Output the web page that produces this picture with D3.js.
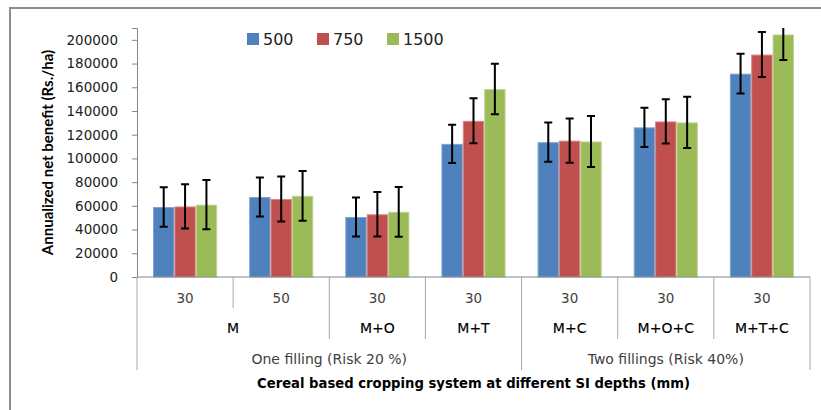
<!DOCTYPE html>
<html>
<head>
<meta charset="utf-8">
<script src="https://cdn.jsdelivr.net/npm/d3@7"></script>
<style>
    body { margin: 0; background: #fff; }
    svg { display: block; }
</style>
</head>
<body>
<div id="chart"></div>
<script>
// Annualized net benefit by cropping system, SI depth and filling

// Data
const depths = ["30", "50", "30", "30", "30", "30", "30"];
const crops = ["M", "M", "M+O", "M+T", "M+C", "M+O+C", "M+T+C"];
const fillings = [
    "One filling (Risk 20 %)", "One filling (Risk 20 %)", "One filling (Risk 20 %)", "One filling (Risk 20 %)",
    "Two fillings (Risk 40%)", "Two fillings (Risk 40%)", "Two fillings (Risk 40%)"
];
const seriesNames = ["500", "750", "1500"];
const values500 = [59000, 67500, 50600, 112300, 113700, 126200, 171500];
const values750 = [59500, 65800, 52900, 131700, 115000, 131200, 187600];
const values1500 = [61000, 68500, 55000, 158500, 114300, 130400, 204500];
const err500 = [16700, 16500, 16500, 16200, 16500, 16600, 16700];
const err750 = [18700, 19000, 18700, 19000, 18700, 18700, 19000];
const err1500 = [20800, 21000, 21000, 21300, 21500, 21600, 21400];
const yTicks = [0, 20000, 40000, 60000, 80000, 100000, 120000, 140000, 160000, 180000, 200000];
const yMax = 210000;

const colors = ["#4F81BD", "#C0504D", "#9BBB59"];
const strokes = ["#7ea3d3", "#d88583", "#bcd48c"];

// merge consecutive equal labels into spans
function spans(labels) {
    const out = [];
    labels.forEach((l, i) => {
        const last = out[out.length - 1];
        if (last && last.label === l) last.end = i + 1;
        else out.push({ label: l, start: i, end: i + 1 });
    });
    return out;
}

function createVisualization() {
    const width = 821, height = 410;
    const left = 137, right = 810, top = 28, bottom = 277;
    const idx = d3.range(depths.length);
    const series = [values500, values750, values1500];
    const errs = [err500, err750, err1500];

    const svg = d3.select("#chart")
        .append("svg")
        .attr("width", width)
        .attr("height", height);

    // Outer frame (only top and left visible)
    svg.append("path")
        .attr("d", `M10,${height} V8 H${width}`)
        .attr("fill", "none")
        .attr("stroke", "#8c8c8c")
        .attr("stroke-width", 2);

    // Scales
    const x = d3.scaleBand().domain(idx).range([left, right]).padding(0);
    const xSub = d3.scaleBand().domain(d3.range(3))
        .range([0, x.bandwidth()]).paddingInner(0).paddingOuter(0.75);
    const y = d3.scaleLinear().domain([0, yMax]).range([bottom, top]);

    svg.append("defs").append("clipPath").attr("id", "plot")
        .append("rect").attr("x", left).attr("y", top)
        .attr("width", right - left).attr("height", bottom - top);

    // Bars
    const groups = svg.append("g").selectAll("g")
        .data(series)
        .join("g")
        .attr("fill", (d, s) => colors[s])
        .attr("stroke", (d, s) => strokes[s]);

    groups.selectAll("rect")
        .data((d, s) => d.map((v, i) => ({ v, i, s })))
        .join("rect")
        .attr("x", d => x(d.i) + xSub(d.s) + 0.5)
        .attr("y", d => y(d.v) + 0.5)
        .attr("width", xSub.bandwidth() - 1)
        .attr("height", d => y(0) - y(d.v) - 0.5)
        .attr("stroke-width", 1);

    // Error bars
    const eg = svg.append("g")
        .attr("clip-path", "url(#plot)")
        .attr("stroke", "#000")
        .attr("stroke-width", 2)
        .attr("fill", "none");
    series.forEach((vals, s) => {
        vals.forEach((v, i) => {
            const cx = x(i) + xSub(s) + xSub.bandwidth() / 2;
            const y1 = y(v + errs[s][i]), y2 = y(v - errs[s][i]);
            eg.append("path")
                .attr("d", `M${cx},${y1}V${y2}M${cx - 4},${y1}H${cx + 4}M${cx - 4},${y2}H${cx + 4}`);
        });
    });

    // Y axis
    const yAxis = svg.append("g")
        .attr("transform", `translate(${left},0)`)
        .call(d3.axisLeft(y).tickValues(yTicks).tickFormat(d3.format("d"))
            .tickSizeOuter(0).tickSize(5).tickPadding(14));
    yAxis.select(".domain").attr("stroke", "#868686");
    yAxis.selectAll(".tick line").attr("stroke", "#868686");
    yAxis.selectAll(".tick text")
        .attr("fill", "#222")
        .style("font-family", "DejaVu Sans")
        .style("font-size", "13.5px");

    // Category axis line
    svg.append("line")
        .attr("x1", left).attr("x2", right)
        .attr("y1", bottom).attr("y2", bottom)
        .attr("stroke", "#868686");

    // Separators between categories, longer where a higher level changes
    const levelBottoms = [308, 339, 370];
    const sep = svg.append("g").attr("stroke", "#a6a6a6");
    d3.range(depths.length + 1).forEach(b => {
        let lvl = 0;
        const edge = b === 0 || b === depths.length;
        if (edge || crops[b] !== crops[b - 1]) lvl = 1;
        if (edge || fillings[b] !== fillings[b - 1]) lvl = 2;
        const xp = b === depths.length ? right : x(b);
        sep.append("line")
            .attr("x1", xp).attr("x2", xp)
            .attr("y1", bottom).attr("y2", levelBottoms[lvl]);
    });

    const labelFont = "DejaVu Sans";
    // Level 1: depths
    svg.append("g").selectAll("text")
        .data(idx)
        .join("text")
        .attr("x", i => x(i) + x.bandwidth() / 2)
        .attr("y", 303)
        .attr("text-anchor", "middle")
        .style("font-family", labelFont).style("font-size", "13.5px")
        .attr("fill", "#404040")
        .text(i => depths[i]);

    // Level 2: crops
    svg.append("g").selectAll("text")
        .data(spans(crops))
        .join("text")
        .attr("x", d => (x(d.start) + (d.end === depths.length ? right : x(d.end))) / 2)
        .attr("y", 333)
        .attr("text-anchor", "middle")
        .style("font-family", labelFont).style("font-size", "14px")
        .attr("fill", "#000")
        .attr("stroke", "#000").attr("stroke-width", 0.15)
        .text(d => d.label);

    // Level 3: fillings
    svg.append("g").selectAll("text")
        .data(spans(fillings))
        .join("text")
        .attr("x", d => (x(d.start) + (d.end === depths.length ? right : x(d.end))) / 2)
        .attr("y", 364)
        .attr("text-anchor", "middle")
        .style("font-family", labelFont).style("font-size", "14px")
        .attr("fill", "#404040")
        .text(d => d.label);

    // Axis titles
    svg.append("text")
        .attr("x", (left + right) / 2)
        .attr("y", 388)
        .attr("text-anchor", "middle")
        .style("font-family", labelFont).style("font-size", "13.2px").style("font-weight", "bold")
        .text("Cereal based cropping system at different SI depths (mm)");

    svg.append("text")
        .attr("transform", `translate(53,${(top + bottom) / 2}) rotate(-90)`)
        .attr("text-anchor", "middle")
        .style("font-family", "Lato").style("font-size", "15px").style("font-weight", "bold")
        .text("Annualized net benefit (Rs./ha)");

    // Legend
    const legend = svg.append("g").selectAll("g")
        .data(seriesNames)
        .join("g")
        .attr("transform", (d, s) => `translate(${247 + s * 70},33)`);
    legend.append("rect")
        .attr("width", 12).attr("height", 12)
        .attr("fill", (d, s) => colors[s]);
    legend.append("text")
        .attr("x", 16).attr("y", 12)
        .style("font-family", labelFont).style("font-size", "16px")
        .attr("fill", "#222")
        .text(d => d);
}

createVisualization();
</script>
</body>
</html>
